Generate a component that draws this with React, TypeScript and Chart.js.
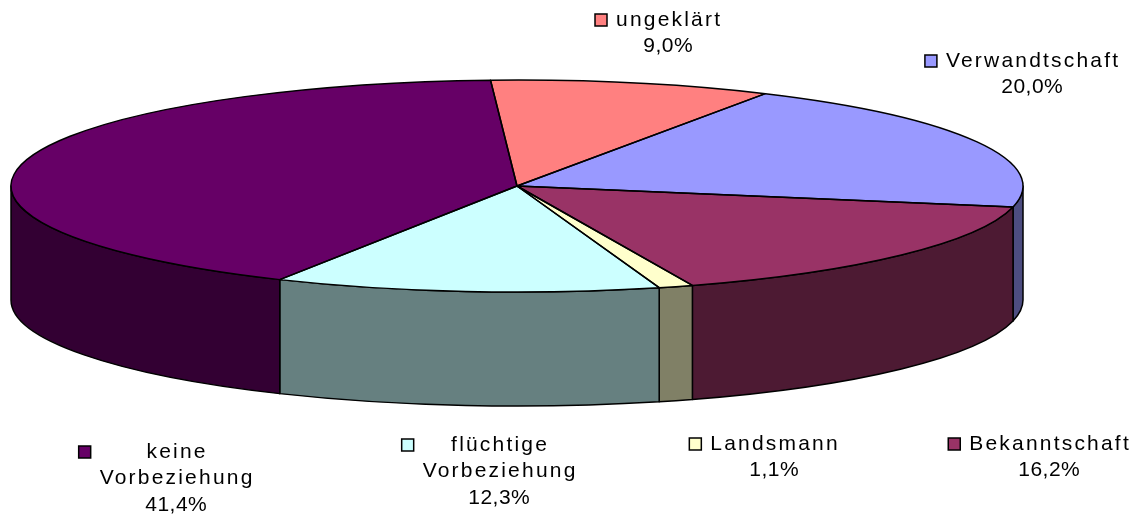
import React, { useEffect, useRef } from 'react';
import { Chart, registerables } from 'chart.js';

Chart.register(...registerables);

// ---- data ----
const categories = ['ungeklärt', 'Verwandtschaft', 'Bekanntschaft', 'Landsmann', 'flüchtige Vorbeziehung', 'keine Vorbeziehung'];
const values = [9.0, 20.0, 16.2, 1.1, 12.3, 41.4];
const faceColors = ['#FF8080', '#9999FF', '#993366', '#FFFFCC', '#CCFFFF', '#660066'];
const sideColors = ['#804040', '#4D4D80', '#4D1A33', '#808066', '#668080', '#330033'];
const labelLines = [['ungeklärt'], ['Verwandtschaft'], ['Bekanntschaft'], ['Landsmann'], ['flüchtige', 'Vorbeziehung'], ['keine', 'Vorbeziehung']];

// ---- layout (not data) ----
const W = 1139;
const H = 514;
const DEPTH = 114;
const labelCenterX = [668, 1032, 1049, 774, 499, 176];
const labelFirstY = [20, 61, 444, 444, 445, 452];
const LINE_H = 26.5;
const FONT = '21px "Liberation Sans", Arial, sans-serif';
const NAME_LS = 2.2;
const PCT_LS = 0.5;

const fmtPct = (v: number) => v.toFixed(1).replace('.', ',') + '%';

function geometry(chart: any) {
  const meta = chart.getDatasetMeta(0);
  const arcs = meta.data as any[];
  const ca = chart.chartArea;
  const cx = arcs[0].x;
  const cy = arcs[0].y;
  const ry = arcs[0].outerRadius;
  const rx = (ca.right - ca.left) / 2;
  return { arcs, cx, cy, rx, ry };
}

const pie3d = {
  id: 'pie3d',
  beforeDatasetsDraw(chart: any) {
    const ctx: CanvasRenderingContext2D = chart.ctx;
    const { arcs, cx, cy, rx, ry } = geometry(chart);
    ctx.save();
    ctx.lineWidth = 1.5;
    ctx.strokeStyle = '#000';
    ctx.lineJoin = 'round';
    arcs.forEach((arc, i) => {
      const p = Math.max(arc.startAngle, 0);
      const q = Math.min(arc.endAngle, Math.PI);
      if (q <= p) return;
      ctx.beginPath();
      ctx.ellipse(cx, cy, rx, ry, 0, p, q);
      ctx.lineTo(cx + rx * Math.cos(q), cy + ry * Math.sin(q) + DEPTH);
      ctx.ellipse(cx, cy + DEPTH, rx, ry, 0, q, p, true);
      ctx.closePath();
      ctx.fillStyle = sideColors[i];
      ctx.fill();
      ctx.stroke();
    });
    ctx.restore();
    ctx.save();
    ctx.translate(cx, cy);
    ctx.scale(rx / ry, 1);
    ctx.translate(-cx, -cy);
  },
  afterDatasetsDraw(chart: any) {
    const ctx: CanvasRenderingContext2D = chart.ctx;
    ctx.restore();
    const { arcs, cx, cy, rx, ry } = geometry(chart);
    ctx.save();
    ctx.lineWidth = 1.5;
    ctx.strokeStyle = '#000';
    ctx.lineJoin = 'round';
    arcs.forEach((arc) => {
      ctx.beginPath();
      ctx.moveTo(cx, cy);
      ctx.ellipse(cx, cy, rx, ry, 0, arc.startAngle, arc.endAngle);
      ctx.closePath();
      ctx.stroke();
    });
    ctx.restore();

    // data labels with legend keys
    ctx.save();
    ctx.font = FONT;
    ctx.fillStyle = '#000';
    ctx.textBaseline = 'middle';
    ctx.textAlign = 'left';
    const data = chart.data.datasets[0].data as number[];
    data.forEach((v, i) => {
      const lines = labelLines[i].map((t) => ({ t, ls: NAME_LS }));
      lines.push({ t: fmtPct(v), ls: PCT_LS });
      const widths = lines.map((l) => {
        (ctx as any).letterSpacing = l.ls + 'px';
        return ctx.measureText(l.t).width - l.ls;
      });
      const maxW = Math.max(...widths);
      const X = labelCenterX[i];
      lines.forEach((l, j) => {
        (ctx as any).letterSpacing = l.ls + 'px';
        ctx.fillText(l.t, X - widths[j] / 2, labelFirstY[i] + j * LINE_H);
      });
      // key square
      const kx = X - maxW / 2 - 21;
      const ky = labelFirstY[i] - 6;
      ctx.fillStyle = faceColors[i];
      ctx.fillRect(kx, ky, 12, 12);
      ctx.lineWidth = 1.5;
      ctx.strokeStyle = '#000';
      ctx.strokeRect(kx, ky, 12, 12);
      ctx.fillStyle = '#000';
    });
    ctx.restore();
  },
};

export default function App() {
  const ref = useRef<HTMLCanvasElement>(null);
  useEffect(() => {
    document.body.style.margin = '0';
    const chart = new Chart(ref.current as HTMLCanvasElement, {
      type: 'pie',
      data: {
        labels: categories,
        datasets: [
          {
            data: values,
            backgroundColor: faceColors,
            borderWidth: 0,
            hoverOffset: 0,
            clip: false as any,
          } as any,
        ],
      },
      options: {
        responsive: false,
        animation: false,
        devicePixelRatio: 1,
        rotation: -3,
        events: [],
        layout: { padding: { left: 11, right: 116, top: 80, bottom: 222 } },
        plugins: { legend: { display: false }, tooltip: { enabled: false } },
      },
      plugins: [pie3d as any],
    });
    return () => chart.destroy();
  }, []);
  return <canvas ref={ref} width={W} height={H} style={{ display: 'block' }} />;
}
